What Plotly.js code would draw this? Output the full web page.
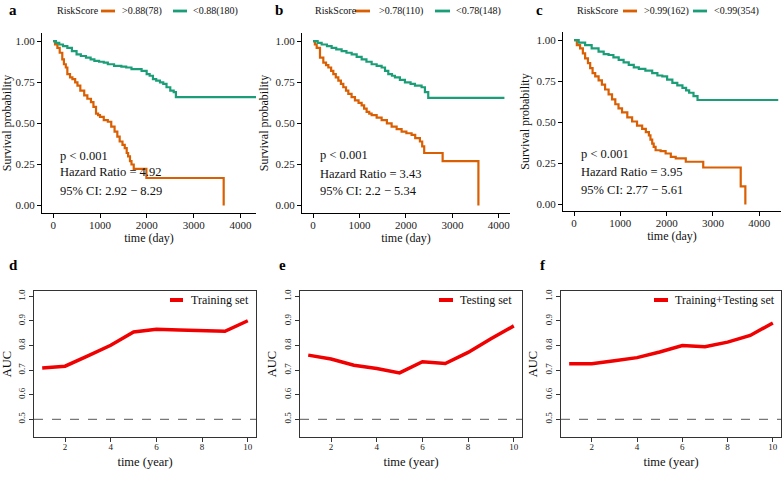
<!DOCTYPE html>
<html><head><meta charset="utf-8">
<script src="https://cdn.plot.ly/plotly-3.0.1.min.js"></script>
<style>html,body{margin:0;padding:0;background:#fff;overflow:hidden}</style>
</head><body><div id="chart" style="width:784px;height:477px"></div>
<script>
// ---------- Kaplan-Meier data (time in days, survival probability) ----------
const aHighT = [0,40,90,140,195,230,270,303,360,411,470,519,580,663,730,807,860,915,960,1000,1080,1167,1240,1311,1370,1420,1480,1528,1570,1600,1640,1672,1720,1990,3640];
const aHighS = [1.0,0.98,0.96,0.93,0.89,0.86,0.84,0.80,0.78,0.77,0.75,0.73,0.70,0.67,0.65,0.63,0.60,0.56,0.55,0.54,0.52,0.51,0.48,0.45,0.42,0.39,0.37,0.35,0.32,0.30,0.27,0.25,0.224,0.168,0.0];
const aLowT  = [0,60,130,210,303,400,500,591,700,800,880,980,1080,1167,1300,1456,1560,1672,1888,1996,2060,2130,2200,2280,2350,2420,2500,2573,2620,4330];
const aLowS  = [1.0,0.99,0.98,0.97,0.96,0.94,0.92,0.91,0.90,0.89,0.88,0.875,0.87,0.86,0.85,0.845,0.84,0.83,0.82,0.80,0.79,0.77,0.76,0.75,0.74,0.72,0.70,0.69,0.66,0.66];

const bHighT = [0,40,79,150,222,280,330,390,437,490,545,600,652,710,760,830,903,980,1047,1100,1154,1210,1262,1370,1477,1590,1692,1800,1907,2010,2122,2200,2301,2350,2393,2790,3560];
const bHighS = [1.0,0.98,0.96,0.90,0.87,0.855,0.84,0.82,0.80,0.78,0.76,0.74,0.72,0.70,0.68,0.66,0.64,0.625,0.61,0.59,0.57,0.56,0.55,0.535,0.52,0.50,0.48,0.465,0.45,0.44,0.43,0.41,0.39,0.36,0.32,0.27,0.0];
const bLowT  = [0,100,186,300,401,500,616,720,832,940,1047,1150,1262,1370,1477,1550,1620,1700,1763,1870,1978,2100,2194,2337,2409,2480,4120];
const bLowS  = [1.0,0.99,0.98,0.97,0.96,0.95,0.94,0.93,0.92,0.905,0.89,0.875,0.86,0.85,0.84,0.82,0.80,0.79,0.78,0.765,0.75,0.74,0.73,0.72,0.69,0.655,0.655];

const cHighT = [0,60,130,190,239,300,348,400,457,530,601,670,746,820,891,960,1036,1150,1254,1360,1471,1550,1616,1650,1688,1720,1761,1870,1978,2090,2196,2413,2790,3600,3700];
const cHighS = [1.0,0.97,0.95,0.92,0.89,0.86,0.83,0.80,0.78,0.755,0.73,0.70,0.67,0.64,0.61,0.585,0.56,0.53,0.505,0.48,0.46,0.44,0.42,0.395,0.37,0.35,0.33,0.325,0.31,0.29,0.28,0.26,0.225,0.11,0.0];
const cLowT  = [0,100,239,380,529,640,746,850,964,1070,1181,1290,1399,1540,1688,1800,1906,2010,2123,2230,2341,2420,2486,2580,2667,4410];
const cLowS  = [1.0,0.985,0.97,0.95,0.93,0.915,0.91,0.895,0.88,0.865,0.85,0.835,0.825,0.815,0.80,0.785,0.78,0.76,0.74,0.725,0.71,0.695,0.68,0.66,0.636,0.636];

const groupNames = [['>0.88(78)','<0.88(180)'],['>0.78(110)','<0.78(148)'],['>0.99(162)','<0.99(354)']];
const legendTitle = 'RiskScore';
const statTexts = [['p < 0.001','Hazard Ratio = 4.92','95% CI: 2.92 − 8.29'],
                   ['p < 0.001','Hazard Ratio = 3.43','95% CI: 2.2 − 5.34'],
                   ['p < 0.001','Hazard Ratio = 3.95','95% CI: 2.77 − 5.61']];

// ---------- time-dependent AUC data ----------
const years = [1,2,3,4,5,6,7,8,9,10];
const aucTrain = [0.709,0.716,0.758,0.801,0.855,0.866,0.863,0.861,0.858,0.901];
const aucTest  = [0.761,0.745,0.720,0.707,0.689,0.734,0.727,0.772,0.828,0.880];
const aucAll   = [0.726,0.726,0.738,0.751,0.774,0.800,0.795,0.814,0.841,0.892];
const aucNames = ['Training set','Testing set','Training+Testing set'];
const yTickVals = [0.5,0.6,0.7,0.8,0.9,1.0];
const xTickVals = [2,4,6,8,10];

const W = 784, H = 477;
const FONT = 'Liberation Serif, Times New Roman, serif';
const ORANGE = '#D95F02', GREEN = '#1B9E77', RED = '#F00000';
const fx = p => p / W, fy = p => 1 - p / H;

const kmSets = [[aHighT,aHighS,aLowT,aLowS],[bHighT,bHighS,bLowT,bLowS],[cHighT,cHighS,cLowT,cLowS]];
const aucSets = [aucTrain, aucTest, aucAll];

// layout boxes (pixels): left, right, top, bottom, xrange, yrange
const topBoxes = [[42,256,33,213,[-238,4330],[-0.045,1.05]],
                  [302,510,33,213,[-237,4240],[-0.045,1.05]],
                  [563,781,32,211,[-239,4470],[-0.04,1.05]]];
const botBoxes = [[34,256,291,437],[300,522,291,437],[561,781,291,437]];
// manual legend placement (pixels): title x, key1 x0,x1, label1 x, key2 x0,x1, label2 x
const topLegPos = [[55,101,115,120,173,187,191],[313,355,370,377,435,450,454],[575,623,637,642,693,707,712]];
const botLegPos = [[170,183,189],[439,453,458],[654,668,673]];
const statX = [95,105,110];
const statY = [[0.303,0.206,0.091],[0.305,0.194,0.091],[0.31,0.20,0.085]];

const traces = [];
const layout = {
  width: W, height: H, margin: {l:0,r:0,t:0,b:0}, autosize: false,
  paper_bgcolor: '#fff', plot_bgcolor: '#fff',
  font: {family: FONT, color: '#111', size: 11},
  showlegend: false, annotations: [], shapes: []
};

kmSets.forEach((d, i) => {
  const n = i + 1, sfx = n === 1 ? '' : String(n);
  traces.push({x: d[0], y: d[1], type: 'scatter', mode: 'lines', line: {shape: 'hv', color: ORANGE, width: 2.2},
    name: groupNames[i][0], xaxis: 'x' + sfx, yaxis: 'y' + sfx, hoverinfo: 'skip'});
  traces.push({x: d[2], y: d[3], type: 'scatter', mode: 'lines', line: {shape: 'hv', color: GREEN, width: 2.2},
    name: groupNames[i][1], xaxis: 'x' + sfx, yaxis: 'y' + sfx, hoverinfo: 'skip'});
  const b = topBoxes[i];
  layout['xaxis' + sfx] = {domain: [fx(b[0]), fx(b[1])], range: b[4], anchor: 'y' + sfx,
    showline: true, linecolor: '#000', linewidth: 1, ticks: 'outside', ticklen: 4, tickcolor: '#000',
    showgrid: false, zeroline: false, dtick: 1000, tick0: 0, tickfont: {size: 11, color: '#222'},
    ticklabelstandoff: -2,
    title: {text: 'time (day)', font: {size: 12}, standoff: 2}};
  layout['yaxis' + sfx] = {domain: [fy(b[3]), fy(b[2])], range: b[5], anchor: 'x' + sfx,
    showline: true, linecolor: '#000', linewidth: 1, ticks: 'outside', ticklen: 4, tickcolor: '#000',
    showgrid: false, zeroline: false, tickvals: [0,0.25,0.5,0.75,1], tickformat: '.2f',
    tickfont: {size: 11, color: '#222'},
    title: {text: 'Survival probability', font: {size: 12}, standoff: 4}};
  // legend (manual)
  const L = topLegPos[i], ly = fy(11);
  layout.annotations.push({xref: 'paper', yref: 'paper', x: fx(L[0]), y: ly, text: legendTitle, showarrow: false,
    xanchor: 'left', yanchor: 'middle', font: {size: 10, color: '#111'}});
  layout.annotations.push({xref: 'paper', yref: 'paper', x: fx(L[3]), y: ly, text: groupNames[i][0], showarrow: false,
    xanchor: 'left', yanchor: 'middle', font: {size: 10, color: '#111'}});
  layout.annotations.push({xref: 'paper', yref: 'paper', x: fx(L[6]), y: ly, text: groupNames[i][1], showarrow: false,
    xanchor: 'left', yanchor: 'middle', font: {size: 10, color: '#111'}});
  layout.shapes.push({type: 'line', xref: 'paper', yref: 'paper', x0: fx(L[1]), x1: fx(L[2]), y0: ly, y1: ly,
    line: {color: ORANGE, width: 2.8}});
  layout.shapes.push({type: 'line', xref: 'paper', yref: 'paper', x0: fx(L[4]), x1: fx(L[5]), y0: ly, y1: ly,
    line: {color: GREEN, width: 2.8}});
  statTexts[i].forEach((t, k) => {
    layout.annotations.push({xref: 'x' + sfx, yref: 'y' + sfx, x: statX[i], y: statY[i][k],
      text: t, showarrow: false, xanchor: 'left', yanchor: 'middle', font: {size: 12.5, color: '#111'}});
  });
});

aucSets.forEach((vals, i) => {
  const n = i + 4, sfx = String(n);
  traces.push({x: years, y: vals, type: 'scatter', mode: 'lines', line: {color: RED, width: 3.5},
    name: aucNames[i], xaxis: 'x' + sfx, yaxis: 'y' + sfx, hoverinfo: 'skip'});
  const b = botBoxes[i];
  layout['xaxis' + sfx] = {domain: [fx(b[0]), fx(b[1])], range: [0.64, 10.36], anchor: 'y' + sfx,
    showline: true, mirror: true, linecolor: '#333', linewidth: 1, ticks: 'outside', ticklen: 4, tickcolor: '#333',
    showgrid: false, zeroline: false, tickvals: xTickVals, tickfont: {size: 9, color: '#222'},
    ticklabelstandoff: -3,
    title: {text: 'time (year)', font: {size: 12.5}, standoff: 6}};
  layout['yaxis' + sfx] = {domain: [fy(b[3]), fy(b[2])], range: [0.428, 1.022], anchor: 'x' + sfx,
    showline: true, mirror: true, linecolor: '#333', linewidth: 1, ticks: 'outside', ticklen: 4, tickcolor: '#333',
    showgrid: false, zeroline: false, tickvals: yTickVals, tickformat: '.1f', tickangle: -90,
    tickfont: {size: 9, color: '#222'},
    title: {text: 'AUC', font: {size: 12.5}, standoff: 4}};
  const P = botLegPos[i], ly = fy(300);
  layout.shapes.push({type: 'line', xref: 'paper', yref: 'paper', x0: fx(P[0]), x1: fx(P[1]), y0: ly, y1: ly,
    line: {color: RED, width: 4}});
  layout.annotations.push({xref: 'paper', yref: 'paper', x: fx(P[2]), y: ly, text: aucNames[i], showarrow: false,
    xanchor: 'left', yanchor: 'middle', font: {size: 12, color: '#111'}});
  layout.shapes.push({type: 'line', xref: 'x' + sfx + ' domain', x0: 0, x1: 1, yref: 'y' + sfx, y0: 0.5, y1: 0.5,
    line: {color: '#555', width: 1, dash: 'dash'}});
});

// panel letters
[['a',13,10],['b',279,10],['c',539,10],['d',13,265],['e',282,265],['f',543,265]].forEach(l => {
  layout.annotations.push({xref: 'paper', yref: 'paper', x: fx(l[1]), y: fy(l[2]), text: '<b>' + l[0] + '</b>',
    showarrow: false, xanchor: 'center', yanchor: 'middle', font: {size: 15, color: '#000'}});
});

Plotly.newPlot('chart', traces, layout, {staticPlot: true});
</script></body></html>
